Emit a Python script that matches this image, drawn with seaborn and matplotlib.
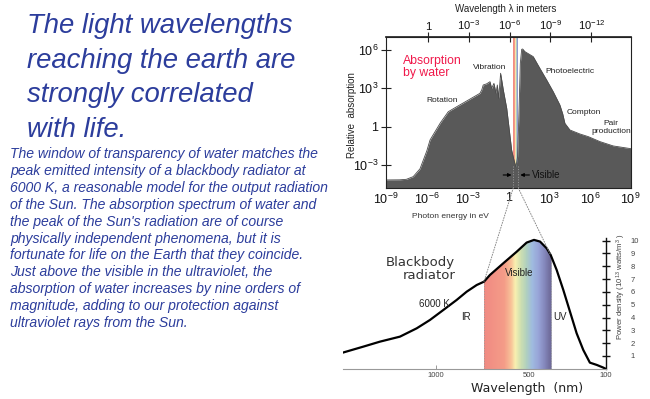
import numpy as np
import matplotlib
matplotlib.use("Agg")
import matplotlib.pyplot as plt
import seaborn as sns
from matplotlib.colors import LinearSegmentedColormap
from matplotlib.patches import ConnectionPatch
from matplotlib.ticker import NullLocator

sns.set_theme(style="white")
plt.rcParams["font.family"] = ["Liberation Sans", "DejaVu Sans"]
plt.rcParams["mathtext.fontset"] = "custom"
plt.rcParams["mathtext.rm"] = "Liberation Sans"
plt.rcParams["mathtext.it"] = "Liberation Sans:italic"
plt.rcParams["mathtext.bf"] = "Liberation Sans:bold"

# ---------------- text ----------------
title_lines = ["The light wavelengths", "reaching the earth are",
               "strongly correlated", "with life."]
para_lines = [
    "The window of transparency of water matches the",
    "peak emitted intensity of a blackbody radiator at",
    "6000 K, a reasonable model for the output radiation",
    "of the Sun. The absorption spectrum of water and",
    "the peak of the Sun's radiation are of course",
    "physically independent phenomena, but it is",
    "fortunate for life on the Earth that they coincide.",
    "Just above the visible in the ultraviolet, the",
    "absorption of water increases by nine orders of",
    "magnitude, adding to our protection against",
    "ultraviolet rays from the Sun.",
]

# ---------------- water absorption data ----------------
log_energy_ev = [-9.0, -8.0, -7.5, -7.0, -6.5, -6.0, -5.76, -5.0, -4.42, -3.8,
                 -3.0, -2.09, -1.95, -1.85, -1.6, -1.35, -1.23, -1.06, -0.91,
                 -0.81, -0.71, -0.57, -0.45, -0.37, -0.12, 0.07, 0.24, 0.41,
                 0.56, 0.68, 0.78, 0.88, 0.98, 1.05, 1.22, 1.83, 2.3, 2.82,
                 3.3, 3.79, 4.0, 4.16, 4.53, 5.26, 5.88, 6.74, 7.72, 9.0]
log_absorption = [-4.17, -4.16, -4.12, -3.91, -3.3, -1.9, -1.04, 0.3, 1.17, 1.56,
                  2.05, 2.61, 2.9, 3.26, 3.35, 3.52, 3.0, 3.39, 2.61,
                  3.26, 2.22, 4.18, 3.4, 2.87, 1.44, -0.26, -1.82, -2.6,
                  -3.15, -2.35, 1.05, 4.96, 6.05, 6.08, 5.87, 5.48, 4.6, 3.65,
                  2.74, 1.7, 1.0, 0.26, -0.26, -0.57, -0.78, -1.17, -1.51, -1.72]
visible_log_ev = [0.36, 0.73]
energy_tick_exp = [-9, -6, -3, 0, 3, 6, 9]
energy_tick_labels = [r"$10^{-9}$", r"$10^{-6}$", r"$10^{-3}$", "1",
                      r"$10^{3}$", r"$10^{6}$", r"$10^{9}$"]
absorption_tick_exp = [-3, 0, 3, 6]
absorption_tick_labels = [r"$10^{-3}$", "1", r"$10^{3}$", r"$10^{6}$"]
wavelength_m_ticks = [1.0, 1e-3, 1e-6, 1e-9, 1e-12]
wavelength_m_labels = ["1", r"$10^{-3}$", r"$10^{-6}$", r"$10^{-9}$", r"$10^{-12}$"]
HC_EV_M = 1.2398e-6

# ---------------- blackbody (6000 K) data ----------------
bb_wavelength_nm = [2000, 1716, 1516, 1307, 1154, 1046, 947, 858, 796, 739, 700,
                    670, 607, 549, 510, 476, 447, 417, 400, 344, 291, 246, 208,
                    176, 149, 125, 106, 100]
bb_power = [1.26, 1.73, 2.12, 2.51, 3.16, 3.81, 4.59, 5.37, 6.02, 6.54, 6.8,
            7.32, 8.23, 9.14, 9.85, 10.06, 9.93, 9.4, 8.88, 7.71, 6.15, 4.46, 2.77,
            1.47, 0.48, 0.3, 0.09, 0.0]
visible_nm = [700, 400]
bb_xticks = [1000, 500, 100]
bb_xtick_labels = ["1000", "500", "100"]
bb_yticks = [1, 2, 3, 4, 5, 6, 7, 8, 9, 10]

# ---------------- styling ----------------
BLUE = "#2c3d9c"
FILL = "#595959"
band_cmap = LinearSegmentedColormap.from_list("vis", [
    (0.0, "#f08a82"), (0.3, "#f49c88"), (0.4, "#f8c098"), (0.47, "#f8f0b0"),
    (0.55, "#cfe0b0"), (0.64, "#b0d0c0"), (0.72, "#a0bce0"), (0.82, "#98a4d8"),
    (0.92, "#8284b8"), (1.0, "#6e6a98")])

# piecewise-log layout of the schematic wavelength axis
_AX_LOG = [-5.0, 2.0, np.log10(400), np.log10(500), 3.0, np.log10(2000), 10.0]
_AX_POS = [-639.5, 0.0, 55.0, 76.4, 169.7, 263.0, 2339.7]


def bb_fwd(l):
    l = np.clip(np.asarray(l, dtype=float), 1e-4, None)
    return np.interp(np.log10(l), _AX_LOG, _AX_POS)


def bb_inv(p):
    return 10.0 ** np.interp(np.asarray(p, dtype=float), _AX_POS, _AX_LOG)


def e2l(x):
    x = np.asarray(x, dtype=float)
    with np.errstate(divide="ignore", invalid="ignore"):
        return HC_EV_M / np.where(x == 0, 1e-300, x)


fig = plt.figure(figsize=(6.5, 3.99), dpi=100)
fig.patch.set_facecolor("white")

# ---------------- left text ----------------
for i, line in enumerate(title_lines):
    fig.text(27 / 650, 1 - (33.3 + i * 34.5) / 399, line, fontsize=19.8,
             style="italic", color=BLUE, ha="left", va="baseline")
for i, line in enumerate(para_lines):
    fig.text(10 / 650, 1 - (158.3 + i * 16.84) / 399, line, fontsize=10.1,
             style="italic", color=BLUE, ha="left", va="baseline")

# ---------------- top: absorption by water ----------------
ax = fig.add_axes([386 / 650, 1 - 188 / 399, 244.7 / 650, (188 - 36.7) / 399])
E = 10.0 ** np.array(log_energy_ev)
A = 10.0 ** np.array(log_absorption)
ax.set_xscale("log")
ax.set_yscale("log")
ylo, yhi = 10 ** -4.8, 10 ** 7.04

# visible stripe
n = 30
edges = np.linspace(visible_log_ev[0], visible_log_ev[1], n + 1)
for i in range(n):
    ax.axvspan(10 ** edges[i], 10 ** edges[i + 1], color=band_cmap((i + 0.5) / n),
               lw=0, zorder=1)

ax.fill_between(E, A, 1e-12, color=FILL, lw=0, zorder=2)
sns.lineplot(x=E, y=A, ax=ax, color="#4a4a4a", lw=0.6, estimator=None,
             sort=False, zorder=2.1)
ax.set_xlim(1e-9, 1e9)
ax.set_ylim(ylo, yhi)
ax.set_xticks(10.0 ** np.array(energy_tick_exp))
ax.set_xticklabels(energy_tick_labels)
ax.set_yticks(10.0 ** np.array(absorption_tick_exp))
ax.set_yticklabels(absorption_tick_labels)
ax.xaxis.set_minor_locator(NullLocator())
ax.yaxis.set_minor_locator(NullLocator())
ax.tick_params(axis="x", bottom=True, direction="in", length=4, width=0.8,
               color="#c8c8c8", labelsize=9, pad=3, labelcolor="#111111")
ax.tick_params(axis="y", left=True, direction="inout", length=7, width=0.8,
               color="#222222", labelsize=9, pad=2, labelcolor="#111111")
for s in ax.spines.values():
    s.set_color("#222222")
    s.set_linewidth(0.8)
ax.set_ylabel("Relative  absorption", fontsize=7, color="#222222")
ax.yaxis.set_label_coords(-0.118, 0.48)
ax.set_xlabel("")
ax.text(0.264, -0.19, "Photon energy in eV", transform=ax.transAxes, fontsize=6,
        color="#333333", ha="center", va="center")

sec = ax.secondary_xaxis("top", functions=(e2l, e2l))
sec.set_xticks(wavelength_m_ticks)
sec.set_xticklabels(wavelength_m_labels)
sec.xaxis.set_minor_locator(NullLocator())
sec.tick_params(axis="x", top=True, direction="inout", length=7, width=0.8,
                color="#222222", labelsize=8, pad=0, labelcolor="#111111")
ax.text(0.489, 1.18, "Wavelength λ in meters", transform=ax.transAxes,
        fontsize=7, color="#222222", ha="center", va="center")

ax.text(0.068, 0.80, "Absorption\nby water", transform=ax.transAxes, fontsize=8.8,
        color="#f0194b", ha="left", va="center", linespacing=1.05, zorder=3)
for txt, x, y in [("Vibration", 0.423, 0.795), ("Rotation", 0.23, 0.58),
                  ("Photoelectric", 0.752, 0.773), ("Compton", 0.808, 0.498),
                  ("Pair\nproduction", 0.92, 0.40)]:
    ax.text(x, y, txt, transform=ax.transAxes, fontsize=6, color="#222222",
            ha="center", va="center", linespacing=1.3, zorder=3)
ax.annotate("", xy=(0.513, 0.086), xytext=(0.479, 0.086), xycoords="axes fraction",
            arrowprops=dict(arrowstyle="-|>", color="black", lw=0.8,
                            mutation_scale=5, shrinkA=0, shrinkB=0))
ax.annotate("", xy=(0.549, 0.086), xytext=(0.586, 0.086), xycoords="axes fraction",
            arrowprops=dict(arrowstyle="-|>", color="black", lw=0.8,
                            mutation_scale=5, shrinkA=0, shrinkB=0))
ax.text(0.597, 0.086, "Visible", transform=ax.transAxes, fontsize=7,
        color="#111111", ha="left", va="center", zorder=3)

# ---------------- bottom: blackbody radiator ----------------
ax2 = fig.add_axes([342.7 / 650, 1 - 368.8 / 399, 263 / 650, 130.7 / 399])
lam = np.array(bb_wavelength_nm, dtype=float)
pw = np.array(bb_power, dtype=float)
sns.lineplot(x=lam, y=pw, ax=ax2, color="black", lw=1.6, estimator=None,
             sort=False, zorder=3)
ax2.set_xscale("function", functions=(bb_fwd, bb_inv))
ax2.set_xlim(2000, 100)
ax2.set_ylim(0, 10.2)

curve_pos = bb_fwd(lam)


def p_at(l):
    return np.interp(bb_fwd(l), curve_pos[::-1], pw[::-1])


nb = 120
pe = np.linspace(bb_fwd(visible_nm[0]), bb_fwd(visible_nm[1]), nb + 1)
le = bb_inv(pe)
for i in range(nb):
    ax2.fill_between([le[i], le[i + 1]], 0, [p_at(le[i]), p_at(le[i + 1])],
                     color=band_cmap((i + 0.5) / nb), lw=0.5, zorder=1)
ax2.vlines(visible_nm, 0, [p_at(v) for v in visible_nm], colors="#999999",
           linestyles=":", lw=0.7, zorder=2)

ax2.set_xticks(bb_xticks)
ax2.set_xticklabels(bb_xtick_labels)
ax2.xaxis.set_minor_locator(NullLocator())
ax2.yaxis.tick_right()
ax2.set_yticks(bb_yticks)
ax2.set_yticklabels([str(v) for v in bb_yticks])
ax2.tick_params(axis="x", bottom=True, direction="in", length=3, width=0.7,
                color="#999999", labelsize=5.5, pad=2, labelcolor="#444444")
ax2.tick_params(axis="y", right=True, left=False, direction="inout", length=6,
                width=1.0, color="#111111", labelsize=5.5, pad=15,
                labelcolor="#444444")
for side in ["top", "left"]:
    ax2.spines[side].set_visible(False)
ax2.spines["bottom"].set_color("#999999")
ax2.spines["bottom"].set_linewidth(0.8)
ax2.spines["right"].set_color("#111111")
ax2.spines["right"].set_linewidth(1.0)
ax2.set_xlabel("")
ax2.yaxis.set_label_position("right")
ax2.set_ylabel("Power density (10$^{13}$ watts/m$^{3}$ )", fontsize=5.6,
               color="#444444", rotation=90)
ax2.yaxis.set_label_coords(1.036, 0.628)
ax2.text(0.70, -0.15, "Wavelength  (nm)", transform=ax2.transAxes, fontsize=9,
         family=["DejaVu Sans"], color="#222222", ha="center", va="center")

ax2.text(0.428, 0.763, "Blackbody\nradiator", transform=ax2.transAxes,
         fontsize=9.5, family=["DejaVu Sans"], color="#333333", ha="right",
         va="center", multialignment="right", linespacing=0.95)
for txt, x, y in [("6000 K", 0.347, 0.496), ("IR", 0.469, 0.396),
                  ("Visible", 0.672, 0.733), ("UV", 0.826, 0.396)]:
    ax2.text(x, y, txt, transform=ax2.transAxes, fontsize=7, color="#222222",
             ha="center", va="center", zorder=4)

# dotted guides from the water window to the visible band
E_edges = 10.0 ** np.array(visible_log_ev)
for Ev, lv in zip(E_edges, visible_nm):
    ax.plot([Ev, Ev], [10 ** -3.1, ylo], ls=":", color="#9a9a9a", lw=0.7, zorder=3)
    con = ConnectionPatch(xyA=(Ev, ylo), coordsA="data", axesA=ax,
                          xyB=(lv, p_at(lv)), coordsB="data", axesB=ax2,
                          linestyle=":", color="#888888", lw=0.7)
    fig.add_artist(con)

fig.savefig("out.png", dpi=100)
